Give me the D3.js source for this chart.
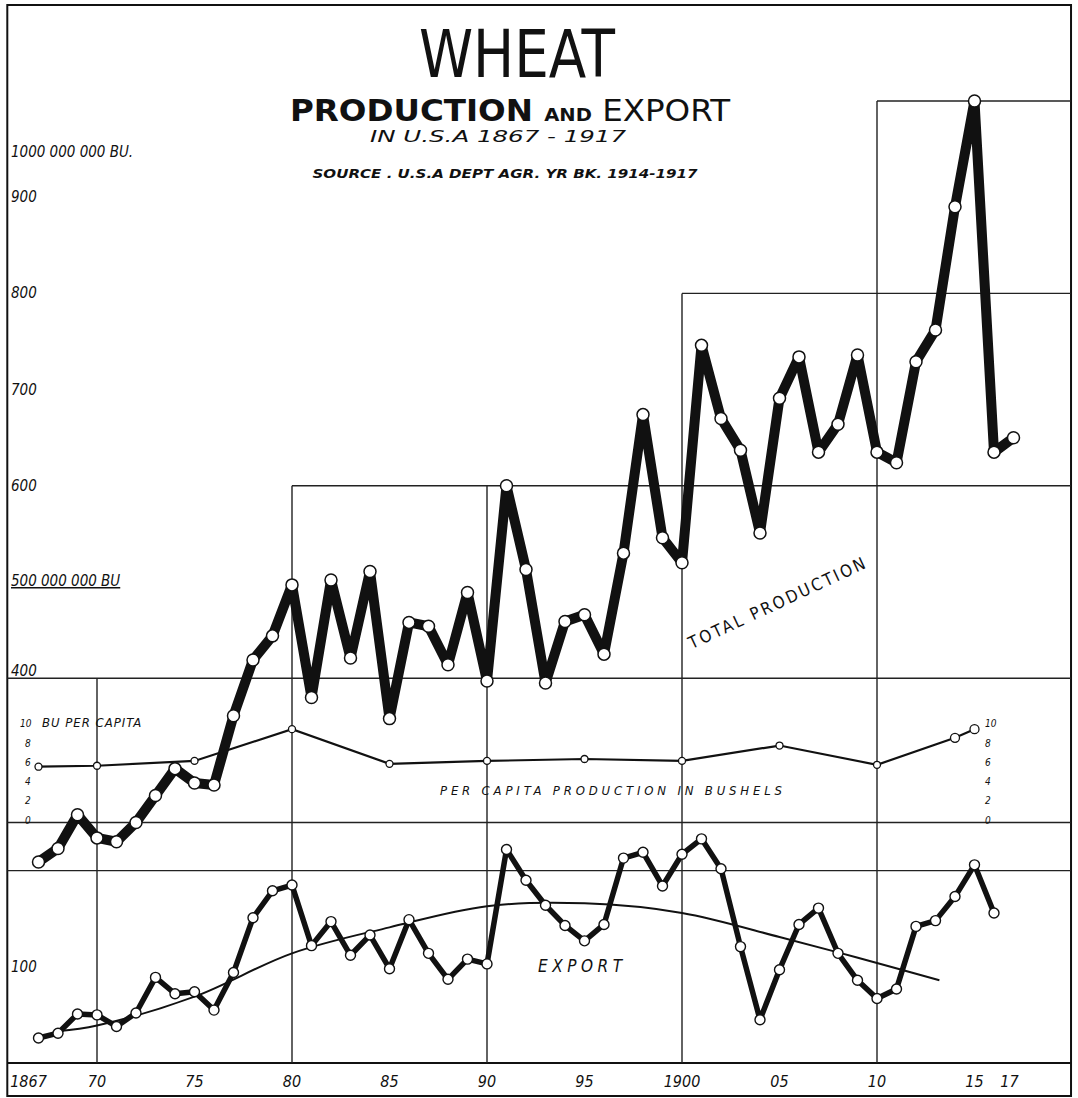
<!DOCTYPE html>
<html>
<head>
<meta charset="utf-8">
<script src="https://cdn.jsdelivr.net/npm/d3@7"></script>
<style>
  html, body { margin: 0; padding: 0; background: #fff; }
  svg { display: block; }
  text { font-family: "DejaVu Sans Condensed", "DejaVu Sans", sans-serif; fill: #111; }
</style>
</head>
<body>
<div id="chart"></div>
<script>
const W = 1078, H = 1098;

// years 1867..1917
const years = d3.range(1867, 1918);

// total production, million bushels
const production = [
  209, 223, 258, 234, 230, 250, 278, 306, 291, 289,
  361, 419, 444, 497, 380, 502, 421, 511, 358, 458,
  454, 414, 489, 397, 600, 513, 395, 459, 466, 425,
  530, 674, 546, 520, 746, 670, 637, 551, 691, 734,
  635, 664, 736, 635, 624, 729, 762, 890, 1000, 635, 650
];

// export, million bushels (1867..1916)
const exportYears = d3.range(1867, 1917);
const exports = [
  26, 31, 51, 50, 38, 52, 89, 72, 74, 55,
  94, 151, 179, 185, 122, 147, 112, 133, 98, 149,
  114, 87, 108, 103, 222, 190, 164, 143, 127, 144,
  213, 219, 184, 217, 233, 202, 121, 45, 97, 144,
  161, 114, 86, 67, 77, 142, 148, 173, 206, 156
];

// smoothed export trend
const trendYears = [1868, 1870, 1875, 1880, 1885, 1890, 1895, 1900, 1905, 1908, 1910, 1913.2];
const trendValues = [33, 39, 69, 114, 141, 163, 166, 156, 131, 115, 104, 86];

// per capita production, bushels
const perCapitaYears = [1867, 1870, 1875, 1880, 1885, 1890, 1895, 1900, 1905, 1910, 1914, 1915];
const perCapita = [5.8, 5.9, 6.4, 9.7, 6.1, 6.4, 6.6, 6.4, 8.0, 6.0, 8.8, 9.7];
const perCapitaTicks = [0, 2, 4, 6, 8, 10];

// axis labels
const xTickYears = [1867, 1870, 1875, 1880, 1885, 1890, 1895, 1900, 1905, 1910, 1915, 1917];
const xTickLabels = ["1867", "70", "75", "80", "85", "90", "95", "1900", "05", "10", "15", "17"];
const yTickValues = [900, 800, 700, 600, 400, 100];
const yTickLabels = ["900", "800", "700", "600", "400", "100"];

// grid: horizontal [level, fromYear], vertical [year, topLevel]
const gridHoriz = [[200, 1865.4], [250, 1865.4], [400, 1865.4], [600, 1880], [800, 1900], [1000, 1910]];
const gridVert = [[1870, 400], [1880, 600], [1890, 600], [1900, 800], [1910, 1000]];

const x = d3.scaleLinear().domain([1870, 1910]).range([97, 877]);
const y = d3.scaleLinear().domain([0, 1000]).range([1063, 101]);
const yPc = d3.scaleLinear().domain([0, 10]).range([y(250), y(350)]);

const frameL = x(1865.4), frameR = x(1919.95);
const frameT = 5, frameB = 1096;

const svg = d3.select("#chart").append("svg").attr("width", W).attr("height", H);

// frame
const frame = svg.append("g").attr("stroke", "#111").attr("fill", "none").attr("stroke-width", 2);
frame.append("rect").attr("x", frameL).attr("y", frameT)
  .attr("width", frameR - frameL).attr("height", frameB - frameT);
frame.append("line").attr("x1", frameL).attr("x2", frameR).attr("y1", y(0)).attr("y2", y(0));

// grid lines
const grid = svg.append("g").attr("stroke", "#222").attr("stroke-width", 1.4);
grid.selectAll(".h").data(gridHoriz).enter().append("line")
  .attr("x1", d => x(d[1])).attr("x2", frameR)
  .attr("y1", d => y(d[0])).attr("y2", d => y(d[0]));
grid.selectAll(".v").data(gridVert).enter().append("line")
  .attr("x1", d => x(d[0])).attr("x2", d => x(d[0]))
  .attr("y1", d => y(d[1])).attr("y2", y(0));

// titles
svg.append("text").attr("x", 517).attr("y", 77).attr("text-anchor", "middle")
  .attr("font-size", 66).attr("font-family", "Liberation Sans Narrow")
  .attr("textLength", 196).attr("lengthAdjust", "spacingAndGlyphs")
  .text("WHEAT");
const sub = svg.append("text").attr("x", 510).attr("y", 121).attr("text-anchor", "middle")
  .attr("font-size", 30).attr("font-weight", "bold").attr("font-family", "Liberation Sans Narrow")
  .attr("textLength", 440).attr("lengthAdjust", "spacingAndGlyphs");
sub.append("tspan").text("PRODUCTION ");
sub.append("tspan").attr("font-size", 18).text("AND");
sub.append("tspan").attr("font-weight", "normal").text(" EXPORT");
svg.append("text").attr("x", 498).attr("y", 142).attr("text-anchor", "middle")
  .attr("font-size", 15).attr("font-style", "italic")
  .attr("textLength", 256).attr("lengthAdjust", "spacingAndGlyphs")
  .text("IN U.S.A  1867 - 1917");
svg.append("text").attr("x", 505).attr("y", 178).attr("text-anchor", "middle")
  .attr("font-size", 13).attr("font-style", "italic").attr("font-weight", "bold")
  .attr("textLength", 385).attr("lengthAdjust", "spacingAndGlyphs")
  .text("SOURCE . U.S.A DEPT AGR. YR BK. 1914-1917");

// left value labels
const yLab = svg.append("g").attr("font-size", 15).attr("font-style", "italic");
yLab.append("text").attr("x", 11).attr("y", y(947) + 5).text("1000 000 000 BU.");
yLab.append("text").attr("x", 11).attr("y", y(500) + 4)
  .attr("text-decoration", "underline").text("500 000 000 BU");
yLab.selectAll(".yl").data(yTickValues).enter().append("text")
  .attr("x", 11)
  .attr("y", d => y(d === 400 ? 407 : d) + 5)
  .text((d, i) => yTickLabels[i]);

// bottom axis labels
svg.append("g").attr("font-size", 16).attr("font-style", "italic")
  .selectAll("text").data(xTickYears).enter().append("text")
  .attr("x", (d, i) => x(d) - (i === 0 ? 10 : i === xTickYears.length - 1 ? 4 : 0))
  .attr("y", 1087).attr("text-anchor", "middle")
  .text((d, i) => xTickLabels[i]);

// per capita scales (left & right)
const pcLab = svg.append("g").attr("font-size", 10).attr("font-style", "italic");
pcLab.selectAll(".pl").data(perCapitaTicks).enter().append("text")
  .attr("x", d => d === 10 ? 20 : 25).attr("y", d => yPc(d) + 1)
  .text(d => d);
pcLab.selectAll(".pr").data(perCapitaTicks).enter().append("text")
  .attr("x", 985).attr("y", d => yPc(d) + 1)
  .text(d => d);
svg.append("text").attr("x", 42).attr("y", yPc(10) + 1)
  .attr("font-size", 13).attr("font-style", "italic").attr("letter-spacing", 1)
  .text("BU PER CAPITA");
svg.append("text").attr("x", 440).attr("y", 795)
  .attr("font-size", 13).attr("font-style", "italic")
  .attr("textLength", 342).attr("lengthAdjust", "spacing")
  .text("PER CAPITA PRODUCTION  IN BUSHELS");

// export trend curve
const trendLine = d3.line().x(d => x(d[0])).y(d => y(d[1])).curve(d3.curveCatmullRom.alpha(0.5));
svg.append("path").datum(d3.zip(trendYears, trendValues))
  .attr("d", trendLine).attr("fill", "none").attr("stroke", "#111").attr("stroke-width", 2);

// per capita line
const pcData = d3.zip(perCapitaYears, perCapita);
svg.append("path").datum(pcData)
  .attr("d", d3.line().x(d => x(d[0])).y(d => yPc(d[1])))
  .attr("fill", "none").attr("stroke", "#111").attr("stroke-width", 2.2);
svg.append("g").selectAll("circle").data(pcData).enter().append("circle")
  .attr("cx", d => x(d[0])).attr("cy", d => yPc(d[1]))
  .attr("r", d => d[0] >= 1914 ? 4.5 : 3.5)
  .attr("fill", "#fff").attr("stroke", "#111").attr("stroke-width", 1.3);

// export line
const exData = d3.zip(exportYears, exports);
svg.append("path").datum(exData)
  .attr("d", d3.line().x(d => x(d[0])).y(d => y(d[1])))
  .attr("fill", "none").attr("stroke", "#111").attr("stroke-width", 5.5)
  .attr("stroke-linejoin", "round");
svg.append("g").selectAll("circle").data(exData).enter().append("circle")
  .attr("cx", d => x(d[0])).attr("cy", d => y(d[1])).attr("r", 5)
  .attr("fill", "#fff").attr("stroke", "#111").attr("stroke-width", 1.4);

// production line
const prData = d3.zip(years, production);
svg.append("path").datum(prData)
  .attr("d", d3.line().x(d => x(d[0])).y(d => y(d[1])))
  .attr("fill", "none").attr("stroke", "#111").attr("stroke-width", 10)
  .attr("stroke-linejoin", "round");
svg.append("g").selectAll("circle").data(prData).enter().append("circle")
  .attr("cx", d => x(d[0])).attr("cy", d => y(d[1])).attr("r", 6)
  .attr("fill", "#fff").attr("stroke", "#111").attr("stroke-width", 1.5);

// series labels
svg.append("text")
  .attr("transform", `translate(${x(1900.5)},${y(430)}) rotate(-25)`)
  .attr("font-size", 17).attr("letter-spacing", 2)
  .attr("textLength", 195).attr("lengthAdjust", "spacing")
  .text("TOTAL PRODUCTION");
svg.append("text").attr("x", 538).attr("y", y(100) + 5)
  .attr("font-size", 17).attr("font-style", "italic")
  .attr("textLength", 84).attr("lengthAdjust", "spacing")
  .text("EXPORT");
</script>
</body>
</html>
